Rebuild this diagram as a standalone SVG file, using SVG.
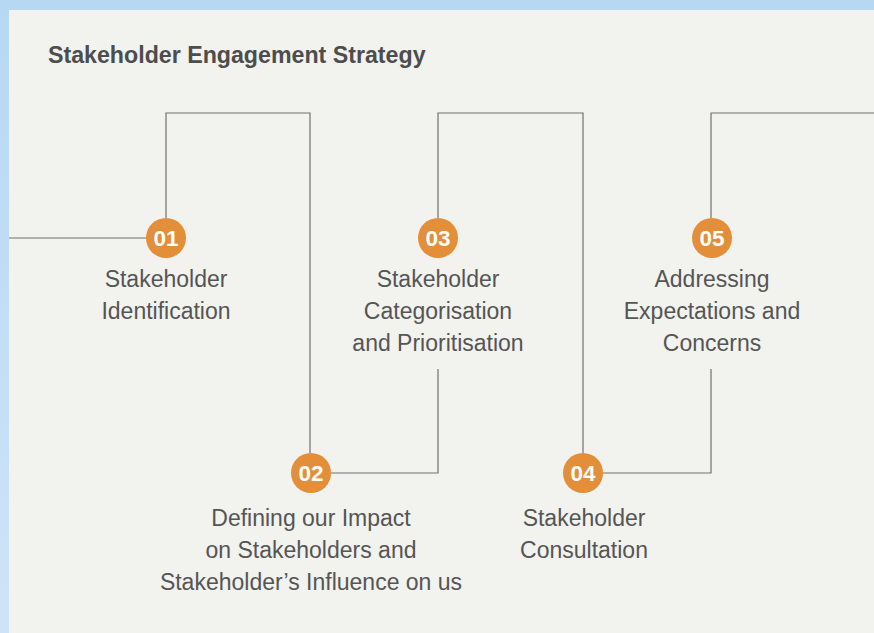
<svg xmlns="http://www.w3.org/2000/svg" width="874" height="633" viewBox="0 0 874 633">
<defs>
<linearGradient id="bg" x1="0" y1="0" x2="0" y2="1">
<stop offset="0" stop-color="#b6d8f3"/>
<stop offset="1" stop-color="#cfe3f8"/>
</linearGradient>
<style>
.lbl{font-family:"Liberation Sans",Arial,sans-serif;font-size:23px;fill:#555555;text-anchor:middle}
.num{font-family:"Liberation Sans",Arial,sans-serif;font-size:22.5px;font-weight:bold;fill:#ffffff;text-anchor:middle}
.dot{fill:#e38e38}
.ln{fill:none;stroke:#707070;stroke-width:1.2}
</style>
</defs>
<rect width="874" height="633" fill="url(#bg)"/>
<rect x="9" y="10" width="865" height="623" fill="#f2f2ee"/>
<text x="48" y="63" font-family="'Liberation Sans',Arial,sans-serif" font-size="23.2" font-weight="bold" fill="#4d4d4d">Stakeholder Engagement Strategy</text>
<g id="connectors">
<path class="ln" d="M9 238 H146"/>
<path class="ln" d="M166 218 V113 H310 V453"/>
<path class="ln" d="M331 473 H438 V369"/>
<path class="ln" d="M438 218 V113 H583 V453"/>
<path class="ln" d="M603 473 H711 V369"/>
<path class="ln" d="M711 218 V113 H874"/>
</g>
<g id="n01">
<circle class="dot" cx="166" cy="238" r="20"/>
<text class="num" x="166" y="246">01</text>
<text class="lbl" x="166" y="287">Stakeholder</text>
<text class="lbl" x="166" y="319">Identification</text>
</g>
<g id="n02">
<circle class="dot" cx="311" cy="473" r="20"/>
<text class="num" x="311" y="481">02</text>
<text class="lbl" x="311" y="526">Defining our Impact</text>
<text class="lbl" x="311" y="558">on Stakeholders and</text>
<text class="lbl" x="311" y="590">Stakeholder’s Influence on us</text>
</g>
<g id="n03">
<circle class="dot" cx="438" cy="238" r="20"/>
<text class="num" x="438" y="246">03</text>
<text class="lbl" x="438" y="287">Stakeholder</text>
<text class="lbl" x="438" y="319">Categorisation</text>
<text class="lbl" x="438" y="351">and Prioritisation</text>
</g>
<g id="n04">
<circle class="dot" cx="583" cy="473" r="20"/>
<text class="num" x="583" y="481">04</text>
<text class="lbl" x="584" y="526">Stakeholder</text>
<text class="lbl" x="584" y="558">Consultation</text>
</g>
<g id="n05">
<circle class="dot" cx="712" cy="238" r="20"/>
<text class="num" x="712" y="246">05</text>
<text class="lbl" x="712" y="287">Addressing</text>
<text class="lbl" x="712" y="319">Expectations and</text>
<text class="lbl" x="712" y="351">Concerns</text>
</g>
</svg>
